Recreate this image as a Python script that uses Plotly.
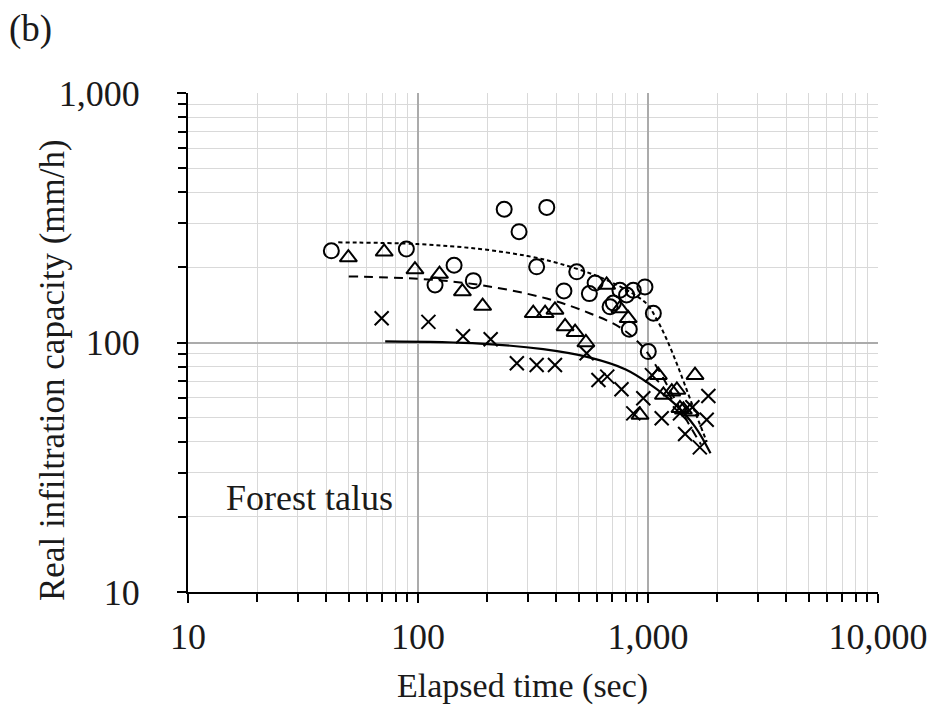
import plotly.graph_objects as go

# ---- data ----
circ_t = [42, 89, 118.6, 143.5, 174, 237, 275, 328, 363, 431, 490, 556, 589, 684, 707, 755, 807, 829, 863, 970, 1003, 1055]
circ_f = [233, 237, 170, 204, 177, 342, 278, 201, 348, 161, 192, 157, 173, 139, 144, 162, 155, 113, 162, 167, 92, 131]

tri_t = [49.8, 71.3, 97, 124, 156, 191, 317, 357, 394, 436, 482, 537, 661, 755, 820, 923, 1109, 1167, 1269, 1335, 1377, 1425, 1524, 1601]
tri_f = [219, 231, 196, 188, 160, 140, 131, 131, 135, 116, 110, 100, 170, 137, 125, 51.2, 74, 61.6, 63.5, 64.5, 54.5, 53.7, 52.8, 74]

crs_t = [69.5, 111, 157, 207, 269, 328, 394, 541, 609, 665, 767, 863, 954, 1040, 1147, 1377, 1560, 1450, 1680, 1800, 1830]
crs_f = [125, 121, 106, 103, 82.6, 81.2, 81.2, 90.5, 70.8, 73, 65, 52, 59.8, 74, 49.7, 52, 55, 43, 38, 49, 61]

fit1_t = [45, 100, 186, 300, 414, 598, 800, 986, 1090, 1200, 1350, 1550, 1800]
fit1_f = [252, 248, 237, 222, 207, 185, 163, 143, 124, 104, 80, 57, 40]

fit2_t = [50, 100, 186, 363, 557, 755, 940, 1090, 1250, 1450, 1700]
fit2_f = [184, 180, 170, 150, 131, 115, 97, 80, 64, 50, 39]

fit3_t = [72, 186, 350, 560, 800, 1021, 1300, 1600, 1870]
fit3_f = [101, 99, 94, 87, 78, 68, 57, 46, 36]

x_major = [10, 100, 1000, 10000]
x_major_text = ["10", "100", "1,000", "10,000"]
y_major = [10, 100, 1000]
y_major_text = ["10", "100", "1,000"]

FONT = "Liberation Serif"
TXT = "#1a1a1a"

fig = go.Figure()
fig.add_trace(go.Scatter(x=fit1_t, y=fit1_f, mode="lines", line_shape="spline",
                         line=dict(color="black", width=2, dash="4px,3px"), showlegend=False))
fig.add_trace(go.Scatter(x=fit2_t, y=fit2_f, mode="lines", line_shape="spline",
                         line=dict(color="black", width=2, dash="9px,6px"), showlegend=False))
fig.add_trace(go.Scatter(x=fit3_t, y=fit3_f, mode="lines", line_shape="spline",
                         line=dict(color="black", width=2.2), showlegend=False))
fig.add_trace(go.Scatter(x=circ_t, y=circ_f, mode="markers",
                         marker=dict(symbol="circle-open", size=15, color="black", line=dict(width=2)),
                         showlegend=False))
fig.add_trace(go.Scatter(x=tri_t, y=tri_f, mode="markers",
                         marker=dict(symbol="triangle-up-open", size=15, color="black", line=dict(width=2)),
                         showlegend=False))
fig.add_trace(go.Scatter(x=crs_t, y=crs_f, mode="markers",
                         marker=dict(symbol="x-thin-open", size=14, color="black", line=dict(width=2)),
                         showlegend=False))

minor_x = [m * d for d in [10, 100, 1000] for m in range(2, 10)]
minor_y = [m * d for d in [10, 100] for m in range(2, 10)]

fig.update_xaxes(type="log", range=[1, 4], tickvals=x_major, ticktext=x_major_text, automargin=False,
                 ticks="outside", ticklen=9, tickwidth=2, tickcolor="black",
                 showline=True, linecolor="black", linewidth=2,
                 showgrid=True, gridcolor="#ababab", gridwidth=1.5, zeroline=False,
                 tickfont=dict(family=FONT, size=36, color=TXT), ticklabelstandoff=3,
                 minor=dict(tickvals=minor_x, ticks="outside", ticklen=8, tickwidth=1.5, tickcolor="black",
                            showgrid=True, gridcolor="#d9d9d9", gridwidth=1.2))
fig.update_yaxes(type="log", range=[1, 3], tickvals=y_major, ticktext=y_major_text, automargin=False,
                 ticks="outside", ticklen=9, tickwidth=2, tickcolor="black",
                 showline=True, linecolor="black", linewidth=2,
                 showgrid=True, gridcolor="#ababab", gridwidth=1.5, zeroline=False,
                 tickfont=dict(family=FONT, size=36, color=TXT), ticklabelstandoff=30,
                 minor=dict(tickvals=minor_y, ticks="outside", ticklen=8, tickwidth=1.5, tickcolor="black",
                            showgrid=True, gridcolor="#d9d9d9", gridwidth=1.2))

def px_to_paper(px, py):
    return (px - 188) / 690, (592 - py) / 499

ax, ay = px_to_paper(522, 686)
fig.add_annotation(x=ax, y=ay, xref="paper", yref="paper", text="Elapsed time (sec)", showarrow=False,
                   xanchor="center", yanchor="middle", font=dict(family=FONT, size=34, color=TXT))
ax, ay = px_to_paper(52, 370)
fig.add_annotation(x=ax, y=ay, xref="paper", yref="paper", text="Real infiltration capacity (mm/h)",
                   showarrow=False, textangle=-90, xanchor="center", yanchor="middle",
                   font=dict(family=FONT, size=35, color=TXT))
fig.add_annotation(x=1.530, y=1.377, xref="x", yref="y", text="Forest talus", showarrow=False,
                   font=dict(family=FONT, size=36, color=TXT))
ax, ay = px_to_paper(30, 29)
fig.add_annotation(x=ax, y=ay, xref="paper", yref="paper", text="(b)", showarrow=False,
                   xanchor="center", yanchor="middle", font=dict(family=FONT, size=37, color=TXT))

fig.update_layout(width=930, height=715, margin=dict(l=188, r=52, t=93, b=123, autoexpand=False),
                  plot_bgcolor="white", paper_bgcolor="white", showlegend=False)

fig.write_html("out.html")
